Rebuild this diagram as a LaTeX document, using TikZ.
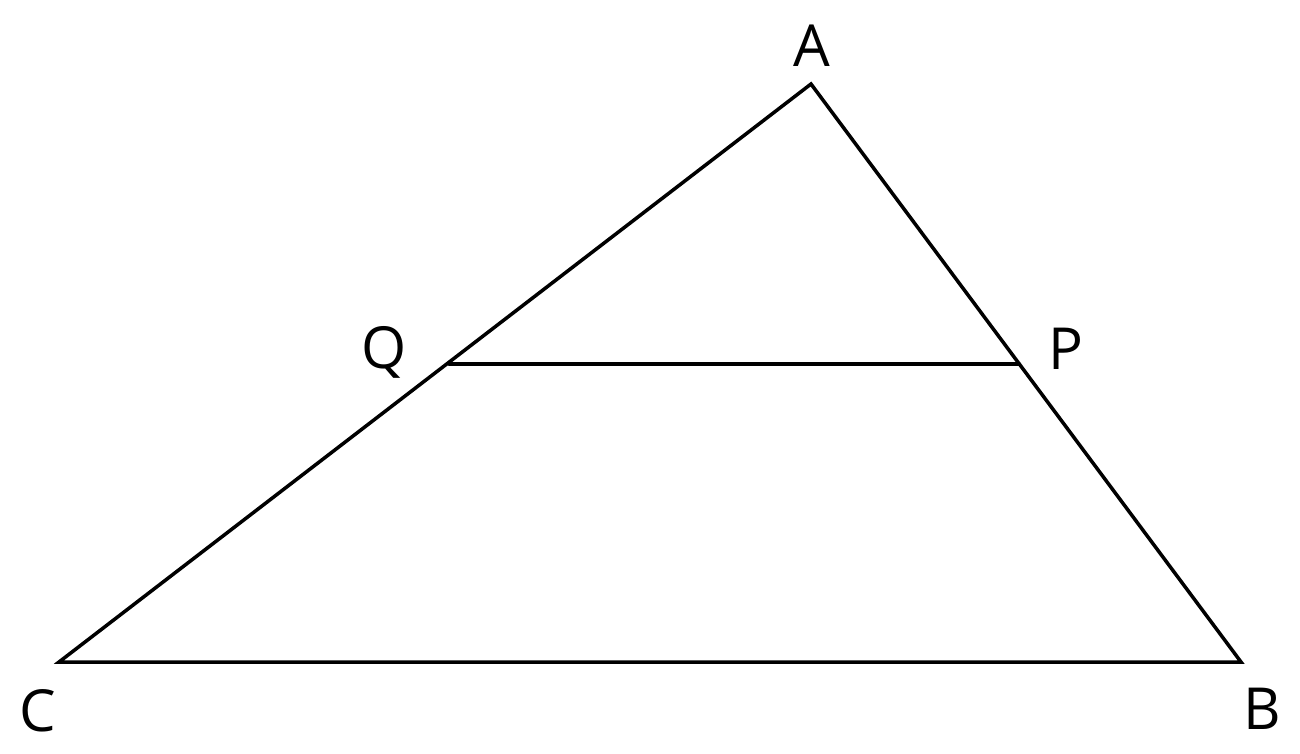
\documentclass[tikz,border=0pt]{standalone}
\usepackage{fontspec}
\setmainfont{Open Sans}
\begin{document}
\begin{tikzpicture}[x=0.02cm,y=-0.02cm,
  edge/.style={line width=2pt,line join=miter,line cap=round},
  lab/.style={font=\fontsize{33}{36}\selectfont,inner sep=0pt,anchor=center}]
\useasboundingbox (0,0) rectangle (1300,753);
\fill[white] (0,0) rectangle (1300,753);
\coordinate (A) at (811,84);
\coordinate (B) at (1241,662);
\coordinate (C) at (59,662);
\coordinate (Q) at (449,364);
\coordinate (P) at (1019,364);
\draw[edge] (A) -- (B) -- (C) -- cycle;
\draw[edge] (Q) -- (P);
\node[lab] (lA) at (812,46) {A};
\node[lab] (lB) at (1262,709) {B};
\node[lab] (lC) at (38,711) {C};
\node[lab] (lQ) at (384,352) {Q};
\node[lab] (lP) at (1066,349) {P};
\end{tikzpicture}
\end{document}
